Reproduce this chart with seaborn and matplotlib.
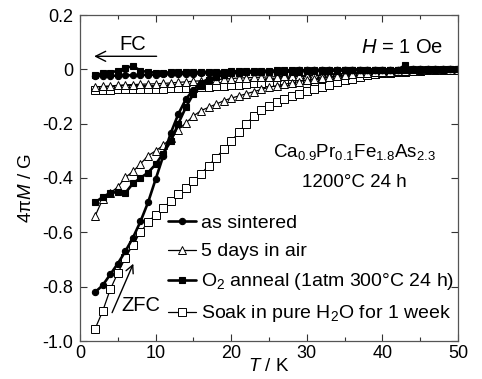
import matplotlib
matplotlib.use("Agg")
import matplotlib.pyplot as plt
import seaborn as sns
import pandas as pd
from matplotlib.ticker import MultipleLocator, FixedLocator, FixedFormatter

# ---------------- data ----------------
T = [2, 3, 4, 5, 6, 7, 8, 9, 10, 11, 12, 13, 14, 15, 16, 17, 18, 19, 20, 21,
     22, 23, 24, 25, 26, 27, 28, 29, 30, 31, 32, 33, 34, 35, 36, 37, 38, 39, 40,
     41, 42, 43, 44, 45, 46, 47, 48, 49, 50]

sint_zfc = [-0.82, -0.795, -0.755, -0.715, -0.67, -0.62, -0.56, -0.49, -0.405, -0.32,
            -0.235, -0.165, -0.11, -0.075, -0.05, -0.035, -0.027, -0.02, -0.014, -0.012,
            -0.011, -0.01, -0.009, -0.008, -0.007, -0.006, -0.005, -0.004, -0.004, -0.003,
            -0.003, -0.002, -0.002, -0.002, -0.002, -0.001, -0.001, -0.001, -0.001, -0.001,
            -0.001, 0.0, 0.0, 0.0, 0.0, 0.0, 0.0, 0.0, 0.0]
sint_fc = [-0.025, -0.025, -0.024, -0.023, -0.022, -0.022, -0.021, -0.02, -0.02, -0.019,
           -0.018, -0.018, -0.017, -0.016, -0.015, -0.014, -0.013, -0.012, -0.012, -0.012,
           -0.011, -0.01, -0.009, -0.008, -0.007, -0.006, -0.005, -0.004, -0.004, -0.003,
           -0.003, -0.002, -0.002, -0.002, -0.002, -0.001, -0.001, -0.001, -0.001, -0.001,
           -0.001, 0.0, 0.0, 0.0, 0.0, 0.0, 0.0, 0.0, 0.0]

air_zfc = [-0.54, -0.478, -0.455, -0.433, -0.398, -0.376, -0.348, -0.318, -0.3, -0.28,
           -0.253, -0.222, -0.197, -0.172, -0.152, -0.14, -0.128, -0.116, -0.106, -0.098,
           -0.09, -0.082, -0.074, -0.066, -0.06, -0.055, -0.05, -0.045, -0.04, -0.035,
           -0.031, -0.027, -0.024, -0.021, -0.018, -0.015, -0.013, -0.011, -0.009, -0.008,
           -0.007, -0.006, -0.005, -0.004, -0.003, -0.003, -0.002, -0.002, -0.002]
air_fc = [-0.065, -0.063, -0.061, -0.059, -0.057, -0.056, -0.055, -0.054, -0.053, -0.052,
          -0.05, -0.048, -0.046, -0.044, -0.042, -0.04, -0.038, -0.036, -0.034, -0.032,
          -0.031, -0.03, -0.029, -0.028, -0.027, -0.026, -0.025, -0.024, -0.023, -0.022,
          -0.021, -0.02, -0.018, -0.016, -0.015, -0.013, -0.012, -0.01, -0.009, -0.008,
          -0.007, -0.006, -0.005, -0.004, -0.003, -0.003, -0.002, -0.002, -0.002]

o2_zfc = [-0.49, -0.47, -0.455, -0.452, -0.455, -0.42, -0.4, -0.38, -0.35, -0.31,
          -0.265, -0.2, -0.14, -0.09, -0.06, -0.04, -0.028, -0.02, -0.015, -0.012,
          -0.011, -0.011, -0.01, -0.01, -0.009, -0.009, -0.008, -0.008, -0.007, -0.006,
          -0.006, -0.005, -0.005, -0.004, -0.004, -0.003, -0.003, -0.003, -0.002, -0.002,
          -0.002, -0.002, -0.001, -0.001, -0.001, -0.001, -0.001, 0.0, 0.0]
o2_fc = [-0.02, -0.015, -0.012, -0.005, 0.005, 0.012, -0.005, -0.01, -0.012, -0.012,
         -0.011, -0.011, -0.01, -0.01, -0.009, -0.009, -0.008, -0.008, -0.007, -0.007,
         -0.006, -0.006, -0.005, -0.005, -0.004, -0.004, -0.003, -0.003, -0.003, -0.002,
         -0.002, -0.002, -0.002, -0.002, -0.001, -0.001, -0.001, -0.001, -0.001, -0.001,
         -0.001, 0.015, 0.0, 0.0, 0.0, 0.0, 0.0, 0.0, 0.0]

h2o_zfc = [-0.955, -0.89, -0.81, -0.75, -0.695, -0.645, -0.6, -0.562, -0.535, -0.51,
           -0.485, -0.46, -0.438, -0.412, -0.385, -0.355, -0.325, -0.295, -0.265, -0.232,
           -0.2, -0.172, -0.15, -0.135, -0.122, -0.11, -0.1, -0.09, -0.081, -0.072,
           -0.064, -0.056, -0.048, -0.041, -0.034, -0.028, -0.022, -0.018, -0.015, -0.012,
           -0.01, -0.008, -0.006, -0.005, -0.004, -0.003, -0.003, -0.002, -0.002]
h2o_fc = [-0.075, -0.075, -0.075, -0.074, -0.074, -0.073, -0.073, -0.072, -0.072, -0.071,
          -0.07, -0.069, -0.068, -0.067, -0.066, -0.064, -0.062, -0.06, -0.058, -0.056,
          -0.054, -0.052, -0.05, -0.048, -0.046, -0.044, -0.042, -0.04, -0.038, -0.036,
          -0.034, -0.032, -0.03, -0.028, -0.026, -0.024, -0.022, -0.018, -0.015, -0.012,
          -0.01, -0.008, -0.006, -0.005, -0.004, -0.003, -0.003, -0.002, -0.002]

labels = ["as sintered",
          "5 days in air",
          "O$_2$ anneal (1atm 300°C 24 h)",
          "Soak in pure H$_2$O for 1 week"]

x_ticks = [0, 10, 20, 30, 40, 50]
y_ticks = [-1.0, -0.8, -0.6, -0.4, -0.2, 0.0, 0.2]
y_tick_labels = ["-1.0", "-0.8", "-0.6", "-0.4", "-0.2", "0", "0.2"]

# ---------------- style ----------------
sns.set_theme(style="ticks")
plt.rcParams["font.family"] = ["Liberation Sans", "DejaVu Sans"]
plt.rcParams["mathtext.fontset"] = "custom"
plt.rcParams["mathtext.rm"] = "Liberation Sans"
plt.rcParams["mathtext.it"] = "Liberation Sans:italic"
plt.rcParams["mathtext.bf"] = "Liberation Sans:bold"
plt.rcParams["axes.unicode_minus"] = False
for key in ("text.color", "axes.labelcolor", "xtick.color", "ytick.color",
            "xtick.labelcolor", "ytick.labelcolor"):
    plt.rcParams[key] = "black"

fig = plt.figure(figsize=(4.82, 3.79), dpi=100)
ax = fig.add_axes([80 / 482, 1 - 341 / 379, 378 / 482, 326 / 379])

styles = [
    dict(marker="o", markersize=4.5, lw=1.9, mfc="black", mec="black", mew=0.8),
    dict(marker="^", markersize=5.5, lw=0.9, mfc="white", mec="black", mew=0.7),
    dict(marker="s", markersize=4.5, lw=1.9, mfc="black", mec="black", mew=0.8),
    dict(marker="s", markersize=5.5, lw=0.9, mfc="white", mec="black", mew=0.7),
]
zfc_sets = [sint_zfc, air_zfc, o2_zfc, h2o_zfc]
fc_sets = [sint_fc, air_fc, o2_fc, h2o_fc]

order = [3, 1, 2, 0]
handles = {}
for i in order:
    st = styles[i]
    for branch, vals in (("FC", fc_sets[i]), ("ZFC", zfc_sets[i])):
        df = pd.DataFrame({"T": T, "M": vals})
        sns.lineplot(data=df, x="T", y="M", ax=ax, sort=False, color="black",
                     marker=st["marker"], markersize=st["markersize"],
                     linewidth=st["lw"], markerfacecolor=st["mfc"],
                     markeredgecolor=st["mec"], markeredgewidth=st["mew"],
                     label=labels[i] if branch == "ZFC" else None,
                     legend=False)
    handles[i] = ax.lines[-1]

ax.set_xlim(0, 50)
ax.set_ylim(-1.0, 0.2)
ax.xaxis.set_major_locator(FixedLocator(x_ticks))
ax.xaxis.set_minor_locator(MultipleLocator(5))
ax.yaxis.set_major_locator(FixedLocator(y_ticks))
ax.yaxis.set_major_formatter(FixedFormatter(y_tick_labels))
ax.tick_params(which="both", direction="in", top=True, right=True,
               labelsize=13, width=0.8, color="#333333")
ax.tick_params(which="major", length=5)
ax.tick_params(axis="y", which="major", pad=5)
ax.tick_params(axis="x", which="major", pad=3)
ax.tick_params(which="minor", length=3)
for s in ax.spines.values():
    s.set_linewidth(0.9)
    s.set_color("#555555")

ax.set_xlabel("$\\it{T}$ / K", fontsize=13.5, labelpad=-3)
ax.set_ylabel("4π$\\it{M}$ / G", fontsize=13.5)
ax.yaxis.set_label_coords(-0.12, 0.47)

leg = ax.legend([handles[i] for i in range(4)], labels, loc="upper left",
                bbox_to_anchor=(168 / 482, 1 - 214 / 379),
                bbox_transform=fig.transFigure, frameon=False, fontsize=14,
                handlelength=1.45, handletextpad=0.25, labelspacing=0.57,
                borderpad=0, borderaxespad=0, numpoints=1)

# annotations
ax.text(7.0, 0.09, "FC", fontsize=14.5, ha="center", va="center")
ax.annotate("", xy=(1.5, 0.048), xytext=(10.5, 0.048),
            arrowprops=dict(arrowstyle="->", lw=1.0, color="black",
                            mutation_scale=18))
ax.text(48.0, 0.079, "$\\it{H}$ = 1 Oe", fontsize=14.5, ha="right", va="center")
ax.text(36.3, -0.305, "Ca$_{0.9}$Pr$_{0.1}$Fe$_{1.8}$As$_{2.3}$", fontsize=13.5,
        ha="center", va="center")
ax.text(36.3, -0.417, "1200°C 24 h", fontsize=13.5, ha="center", va="center")
ax.text(8.0, -0.868, "ZFC", fontsize=14.5, ha="center", va="center")
ax.annotate("", xy=(7.2, -0.706), xytext=(4.1, -0.905),
            arrowprops=dict(arrowstyle="->", lw=1.0, color="black",
                            mutation_scale=14))

fig.savefig("out.png", dpi=100)
